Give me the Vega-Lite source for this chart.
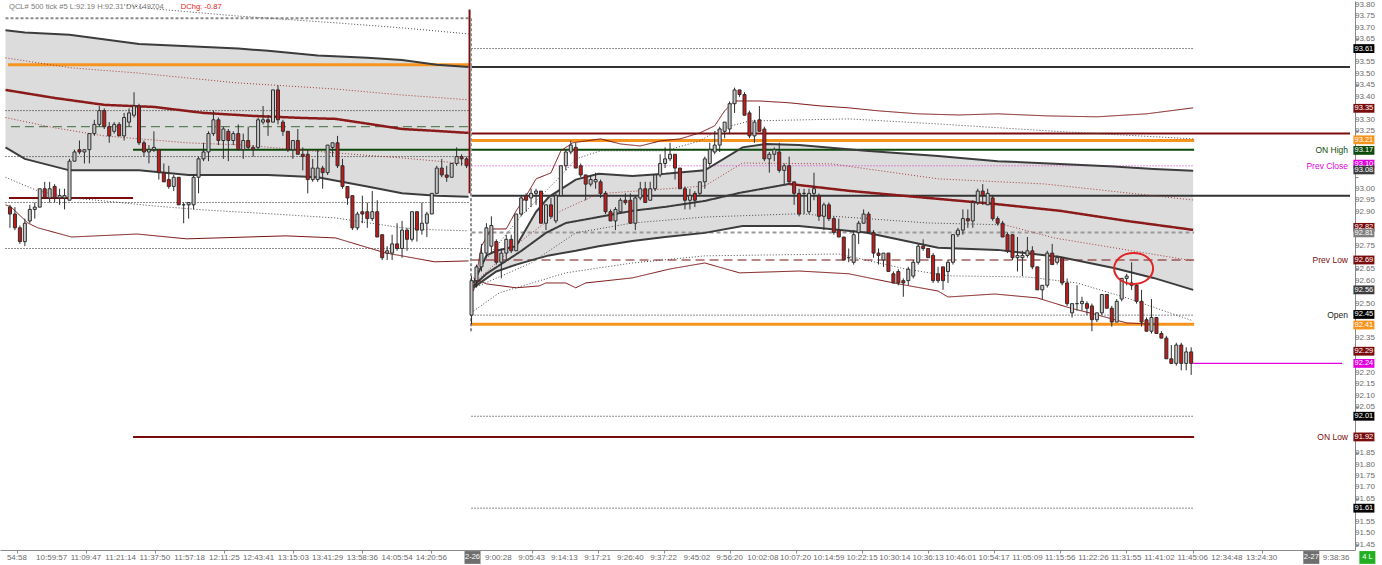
{
"$schema":"https://vega.github.io/schema/vega-lite/v6.json",
"width":1355,"height":549,"padding":0,"autosize":{"type":"pad"},
"background":"#ffffff",
"config":{"view":{"stroke":null},"font":"Liberation Sans Narrow, Liberation Sans, sans-serif","text":{"font":"Liberation Sans Narrow, Liberation Sans, sans-serif"},"axis":{"grid":false,"title":null,"labels":false}},
"datasets":{
"candles":[
{"i":0,"o":92.92,"h":92.93,"l":92.83,"c":92.89},{"i":1,"o":92.89,"h":92.92,"l":92.82,"c":92.83},{"i":2,"o":92.83,"h":92.84,"l":92.76,"c":92.77},{"i":3,"o":92.77,"h":92.87,"l":92.75,"c":92.85},{"i":4,"o":92.86,"h":92.93,"l":92.85,"c":92.91},{"i":5,"o":92.91,"h":92.94,"l":92.87,"c":92.92},{"i":6,"o":92.92,"h":93.0,"l":92.92,"c":93.0},{"i":7,"o":93.0,"h":93.03,"l":92.96,"c":92.96},{"i":8,"o":92.96,"h":93.03,"l":92.94,"c":93.0},{"i":9,"o":93.01,"h":93.02,"l":92.94,"c":92.96},
{"i":10,"o":92.96,"h":93.0,"l":92.93,"c":92.97},{"i":11,"o":92.96,"h":93.0,"l":92.91,"c":92.97},{"i":12,"o":92.95,"h":93.13,"l":92.95,"c":93.12},{"i":13,"o":93.12,"h":93.17,"l":93.12,"c":93.16},{"i":14,"o":93.17,"h":93.21,"l":93.15,"c":93.16},{"i":15,"o":93.16,"h":93.17,"l":93.11,"c":93.17},{"i":16,"o":93.17,"h":93.24,"l":93.11,"c":93.24},{"i":17,"o":93.24,"h":93.3,"l":93.23,"c":93.28},{"i":18,"o":93.28,"h":93.36,"l":93.27,"c":93.34},{"i":19,"o":93.34,"h":93.35,"l":93.26,"c":93.27},
{"i":20,"o":93.27,"h":93.29,"l":93.2,"c":93.23},{"i":21,"o":93.25,"h":93.29,"l":93.24,"c":93.28},{"i":22,"o":93.28,"h":93.29,"l":93.23,"c":93.23},{"i":23,"o":93.23,"h":93.33,"l":93.21,"c":93.31},{"i":24,"o":93.29,"h":93.35,"l":93.27,"c":93.33},{"i":25,"o":93.32,"h":93.42,"l":93.31,"c":93.36},{"i":26,"o":93.36,"h":93.37,"l":93.19,"c":93.2},{"i":27,"o":93.2,"h":93.21,"l":93.14,"c":93.16},{"i":28,"o":93.16,"h":93.19,"l":93.11,"c":93.17},{"i":29,"o":93.17,"h":93.25,"l":93.16,"c":93.18},
{"i":30,"o":93.17,"h":93.17,"l":93.04,"c":93.07},{"i":31,"o":93.07,"h":93.11,"l":93.03,"c":93.03},{"i":32,"o":93.04,"h":93.1,"l":93.0,"c":93.01},{"i":33,"o":93.01,"h":93.06,"l":92.99,"c":93.05},{"i":34,"o":93.05,"h":93.05,"l":92.93,"c":92.93},{"i":35,"o":92.93,"h":92.94,"l":92.85,"c":92.93},{"i":36,"o":92.93,"h":92.94,"l":92.87,"c":92.94},{"i":37,"o":92.93,"h":93.06,"l":92.91,"c":93.05},{"i":38,"o":93.05,"h":93.14,"l":92.98,"c":93.13},{"i":39,"o":93.13,"h":93.2,"l":93.12,"c":93.16},
{"i":40,"o":93.16,"h":93.25,"l":93.12,"c":93.24},{"i":41,"o":93.24,"h":93.34,"l":93.23,"c":93.3},{"i":42,"o":93.3,"h":93.31,"l":93.19,"c":93.21},{"i":43,"o":93.21,"h":93.27,"l":93.13,"c":93.26},{"i":44,"o":93.25,"h":93.26,"l":93.12,"c":93.21},{"i":45,"o":93.21,"h":93.25,"l":93.19,"c":93.24},{"i":46,"o":93.24,"h":93.28,"l":93.17,"c":93.17},{"i":47,"o":93.17,"h":93.24,"l":93.13,"c":93.21},{"i":48,"o":93.21,"h":93.27,"l":93.17,"c":93.18},{"i":49,"o":93.18,"h":93.19,"l":93.14,"c":93.17},
{"i":50,"o":93.18,"h":93.31,"l":93.17,"c":93.3},{"i":51,"o":93.29,"h":93.36,"l":93.28,"c":93.3},{"i":52,"o":93.3,"h":93.32,"l":93.23,"c":93.29},{"i":53,"o":93.29,"h":93.43,"l":93.29,"c":93.43},{"i":54,"o":93.43,"h":93.45,"l":93.28,"c":93.3},{"i":55,"o":93.29,"h":93.3,"l":93.23,"c":93.25},{"i":56,"o":93.25,"h":93.25,"l":93.16,"c":93.17},{"i":57,"o":93.17,"h":93.21,"l":93.13,"c":93.21},{"i":58,"o":93.21,"h":93.26,"l":93.15,"c":93.15},{"i":59,"o":93.15,"h":93.18,"l":93.08,"c":93.14},
{"i":60,"o":93.15,"h":93.17,"l":92.98,"c":93.04},{"i":61,"o":93.04,"h":93.13,"l":93.03,"c":93.09},{"i":62,"o":93.04,"h":93.17,"l":93.03,"c":93.09},{"i":63,"o":93.09,"h":93.1,"l":93.0,"c":93.07},{"i":64,"o":93.07,"h":93.19,"l":93.06,"c":93.19},{"i":65,"o":93.18,"h":93.2,"l":93.14,"c":93.2},{"i":66,"o":93.2,"h":93.23,"l":93.09,"c":93.1},{"i":67,"o":93.1,"h":93.13,"l":93.0,"c":93.01},{"i":68,"o":93.01,"h":93.01,"l":92.93,"c":92.96},{"i":69,"o":92.97,"h":92.97,"l":92.82,"c":92.83},
{"i":70,"o":92.83,"h":92.9,"l":92.82,"c":92.89},{"i":71,"o":92.9,"h":92.97,"l":92.85,"c":92.89},{"i":72,"o":92.9,"h":92.94,"l":92.83,"c":92.87},{"i":73,"o":92.87,"h":92.99,"l":92.86,"c":92.9},{"i":74,"o":92.9,"h":92.95,"l":92.79,"c":92.79},{"i":75,"o":92.8,"h":92.8,"l":92.69,"c":92.7},{"i":76,"o":92.72,"h":92.75,"l":92.69,"c":92.73},{"i":77,"o":92.72,"h":92.8,"l":92.69,"c":92.76},{"i":78,"o":92.76,"h":92.85,"l":92.73,"c":92.74},{"i":79,"o":92.74,"h":92.86,"l":92.7,"c":92.82},
{"i":80,"o":92.82,"h":92.83,"l":92.73,"c":92.78},{"i":81,"o":92.78,"h":92.9,"l":92.77,"c":92.9},{"i":82,"o":92.9,"h":92.9,"l":92.77,"c":92.82},{"i":83,"o":92.82,"h":92.94,"l":92.8,"c":92.85},{"i":84,"o":92.85,"h":92.9,"l":92.79,"c":92.89},{"i":85,"o":92.89,"h":92.98,"l":92.89,"c":92.98},{"i":86,"o":92.98,"h":93.1,"l":92.98,"c":93.09},{"i":87,"o":93.09,"h":93.13,"l":93.05,"c":93.06},{"i":88,"o":93.06,"h":93.1,"l":93.03,"c":93.05},{"i":89,"o":93.05,"h":93.11,"l":93.05,"c":93.11},
{"i":90,"o":93.11,"h":93.18,"l":93.1,"c":93.14},{"i":91,"o":93.14,"h":93.15,"l":93.1,"c":93.13},{"i":92,"o":93.13,"h":93.14,"l":93.09,"c":93.1},
{"i":93,"o":92.45,"h":92.62,"l":92.41,"c":92.6},{"i":94,"o":92.6,"h":92.67,"l":92.57,"c":92.66},{"i":95,"o":92.66,"h":92.76,"l":92.64,"c":92.72},{"i":96,"o":92.72,"h":92.85,"l":92.7,"c":92.83},{"i":97,"o":92.75,"h":92.88,"l":92.72,"c":92.84},{"i":98,"o":92.77,"h":92.78,"l":92.67,"c":92.68},{"i":99,"o":92.68,"h":92.74,"l":92.61,"c":92.72},
{"i":100,"o":92.72,"h":92.8,"l":92.69,"c":92.78},{"i":101,"o":92.78,"h":92.8,"l":92.72,"c":92.73},{"i":102,"o":92.73,"h":92.89,"l":92.73,"c":92.89},{"i":103,"o":92.89,"h":92.97,"l":92.88,"c":92.96},{"i":104,"o":92.97,"h":92.98,"l":92.9,"c":92.95},{"i":105,"o":92.96,"h":93.0,"l":92.92,"c":92.98},{"i":106,"o":92.98,"h":93.0,"l":92.93,"c":92.99},{"i":107,"o":92.99,"h":92.99,"l":92.85,"c":92.85},{"i":108,"o":92.85,"h":92.93,"l":92.82,"c":92.93},{"i":109,"o":92.93,"h":92.96,"l":92.87,"c":92.88},
{"i":110,"o":92.86,"h":92.98,"l":92.85,"c":92.97},{"i":111,"o":92.97,"h":93.1,"l":92.97,"c":93.1},{"i":112,"o":93.1,"h":93.17,"l":93.08,"c":93.16},{"i":113,"o":93.16,"h":93.21,"l":93.15,"c":93.19},{"i":114,"o":93.18,"h":93.2,"l":93.09,"c":93.09},{"i":115,"o":93.1,"h":93.11,"l":93.05,"c":93.06},{"i":116,"o":93.06,"h":93.06,"l":92.95,"c":93.02},{"i":117,"o":93.02,"h":93.06,"l":93.01,"c":93.04},{"i":118,"o":93.03,"h":93.07,"l":93.0,"c":93.04},{"i":119,"o":93.03,"h":93.04,"l":92.96,"c":92.98},
{"i":120,"o":92.98,"h":92.99,"l":92.89,"c":92.9},{"i":121,"o":92.9,"h":92.91,"l":92.86,"c":92.86},{"i":122,"o":92.86,"h":92.92,"l":92.82,"c":92.91},{"i":123,"o":92.9,"h":92.96,"l":92.9,"c":92.95},{"i":124,"o":92.95,"h":92.98,"l":92.93,"c":92.94},{"i":125,"o":92.95,"h":92.98,"l":92.85,"c":92.85},{"i":126,"o":92.85,"h":92.97,"l":92.82,"c":92.96},{"i":127,"o":92.96,"h":93.03,"l":92.95,"c":93.0},{"i":128,"o":93.0,"h":93.03,"l":92.94,"c":92.94},{"i":129,"o":92.95,"h":93.03,"l":92.95,"c":93.0},
{"i":130,"o":93.0,"h":93.06,"l":92.99,"c":93.06},{"i":131,"o":93.06,"h":93.15,"l":93.05,"c":93.11},{"i":132,"o":93.11,"h":93.18,"l":93.09,"c":93.13},{"i":133,"o":93.13,"h":93.2,"l":93.12,"c":93.15},{"i":134,"o":93.15,"h":93.15,"l":93.04,"c":93.09},{"i":135,"o":93.09,"h":93.09,"l":93.0,"c":93.0},{"i":136,"o":93.0,"h":93.01,"l":92.91,"c":92.95},{"i":137,"o":92.95,"h":93.0,"l":92.91,"c":92.97},{"i":138,"o":92.98,"h":92.99,"l":92.92,"c":92.95},{"i":139,"o":92.98,"h":93.03,"l":92.97,"c":93.03},
{"i":140,"o":93.03,"h":93.14,"l":93.0,"c":93.13},{"i":141,"o":93.11,"h":93.2,"l":93.1,"c":93.17},{"i":142,"o":93.16,"h":93.25,"l":93.15,"c":93.19},{"i":143,"o":93.19,"h":93.27,"l":93.16,"c":93.26},{"i":144,"o":93.25,"h":93.29,"l":93.22,"c":93.29},{"i":145,"o":93.26,"h":93.38,"l":93.24,"c":93.37},{"i":146,"o":93.37,"h":93.44,"l":93.33,"c":93.43},{"i":147,"o":93.43,"h":93.43,"l":93.4,"c":93.41},{"i":148,"o":93.41,"h":93.42,"l":93.32,"c":93.32},{"i":149,"o":93.33,"h":93.34,"l":93.22,"c":93.23},
{"i":150,"o":93.23,"h":93.3,"l":93.2,"c":93.29},{"i":151,"o":93.3,"h":93.36,"l":93.25,"c":93.25},{"i":152,"o":93.26,"h":93.27,"l":93.12,"c":93.13},{"i":153,"o":93.13,"h":93.16,"l":93.07,"c":93.15},{"i":154,"o":93.15,"h":93.18,"l":93.12,"c":93.17},{"i":155,"o":93.16,"h":93.2,"l":93.07,"c":93.08},{"i":156,"o":93.08,"h":93.11,"l":93.02,"c":93.1},{"i":157,"o":93.1,"h":93.14,"l":93.02,"c":93.03},{"i":158,"o":93.03,"h":93.03,"l":92.93,"c":92.98},{"i":159,"o":92.98,"h":93.0,"l":92.88,"c":92.89},
{"i":160,"o":92.98,"h":93.0,"l":92.89,"c":92.98},{"i":161,"o":92.9,"h":93.0,"l":92.89,"c":92.98},{"i":162,"o":92.98,"h":93.07,"l":92.95,"c":93.0},{"i":163,"o":92.97,"h":92.98,"l":92.86,"c":92.88},{"i":164,"o":92.88,"h":92.94,"l":92.82,"c":92.93},{"i":165,"o":92.93,"h":92.94,"l":92.86,"c":92.87},{"i":166,"o":92.87,"h":92.88,"l":92.8,"c":92.81},{"i":167,"o":92.82,"h":92.87,"l":92.79,"c":92.79},{"i":168,"o":92.79,"h":92.79,"l":92.69,"c":92.69},{"i":169,"o":92.7,"h":92.74,"l":92.68,"c":92.7},
{"i":170,"o":92.68,"h":92.82,"l":92.67,"c":92.8},{"i":171,"o":92.81,"h":92.86,"l":92.76,"c":92.85},{"i":172,"o":92.85,"h":92.91,"l":92.85,"c":92.89},{"i":173,"o":92.89,"h":92.9,"l":92.81,"c":92.81},{"i":174,"o":92.81,"h":92.82,"l":92.7,"c":92.72},{"i":175,"o":92.72,"h":92.74,"l":92.67,"c":92.71},{"i":176,"o":92.69,"h":92.72,"l":92.66,"c":92.72},{"i":177,"o":92.72,"h":92.72,"l":92.64,"c":92.64},{"i":178,"o":92.63,"h":92.64,"l":92.59,"c":92.59},{"i":179,"o":92.64,"h":92.65,"l":92.58,"c":92.59},
{"i":180,"o":92.6,"h":92.61,"l":92.53,"c":92.59},{"i":181,"o":92.6,"h":92.66,"l":92.58,"c":92.65},{"i":182,"o":92.62,"h":92.69,"l":92.61,"c":92.68},{"i":183,"o":92.68,"h":92.76,"l":92.67,"c":92.75},{"i":184,"o":92.75,"h":92.78,"l":92.73,"c":92.74},{"i":185,"o":92.74,"h":92.74,"l":92.7,"c":92.7},{"i":186,"o":92.71,"h":92.72,"l":92.59,"c":92.6},{"i":187,"o":92.63,"h":92.66,"l":92.59,"c":92.6},{"i":188,"o":92.66,"h":92.66,"l":92.56,"c":92.6},{"i":189,"o":92.64,"h":92.69,"l":92.59,"c":92.68},
{"i":190,"o":92.68,"h":92.8,"l":92.67,"c":92.8},{"i":191,"o":92.8,"h":92.83,"l":92.79,"c":92.82},{"i":192,"o":92.82,"h":92.91,"l":92.8,"c":92.87},{"i":193,"o":92.87,"h":92.91,"l":92.83,"c":92.86},{"i":194,"o":92.86,"h":92.95,"l":92.83,"c":92.94},{"i":195,"o":92.94,"h":93.0,"l":92.93,"c":92.99},{"i":196,"o":92.99,"h":93.02,"l":92.93,"c":92.97},{"i":197,"o":92.93,"h":93.0,"l":92.93,"c":92.98},{"i":198,"o":92.96,"h":92.97,"l":92.86,"c":92.87},{"i":199,"o":92.87,"h":92.88,"l":92.84,"c":92.85},
{"i":200,"o":92.85,"h":92.86,"l":92.79,"c":92.79},{"i":201,"o":92.8,"h":92.81,"l":92.72,"c":92.73},{"i":202,"o":92.8,"h":92.8,"l":92.69,"c":92.7},{"i":203,"o":92.7,"h":92.79,"l":92.64,"c":92.71},{"i":204,"o":92.7,"h":92.73,"l":92.62,"c":92.71},{"i":205,"o":92.71,"h":92.79,"l":92.7,"c":92.73},{"i":206,"o":92.73,"h":92.75,"l":92.65,"c":92.66},{"i":207,"o":92.66,"h":92.66,"l":92.56,"c":92.56},{"i":208,"o":92.56,"h":92.58,"l":92.52,"c":92.58},{"i":209,"o":92.58,"h":92.73,"l":92.57,"c":92.72},
{"i":210,"o":92.72,"h":92.76,"l":92.67,"c":92.67},{"i":211,"o":92.68,"h":92.71,"l":92.67,"c":92.7},{"i":212,"o":92.7,"h":92.7,"l":92.58,"c":92.59},{"i":213,"o":92.59,"h":92.61,"l":92.49,"c":92.5},{"i":214,"o":92.46,"h":92.5,"l":92.44,"c":92.5},{"i":215,"o":92.5,"h":92.58,"l":92.47,"c":92.5},{"i":216,"o":92.5,"h":92.53,"l":92.47,"c":92.51},{"i":217,"o":92.5,"h":92.51,"l":92.45,"c":92.48},{"i":218,"o":92.49,"h":92.5,"l":92.38,"c":92.43},{"i":219,"o":92.43,"h":92.46,"l":92.42,"c":92.46},
{"i":220,"o":92.46,"h":92.54,"l":92.45,"c":92.54},{"i":221,"o":92.54,"h":92.54,"l":92.48,"c":92.48},{"i":222,"o":92.48,"h":92.49,"l":92.4,"c":92.42},{"i":223,"o":92.42,"h":92.52,"l":92.42,"c":92.51},{"i":224,"o":92.52,"h":92.61,"l":92.51,"c":92.61},{"i":225,"o":92.61,"h":92.63,"l":92.58,"c":92.62},{"i":226,"o":92.59,"h":92.68,"l":92.56,"c":92.58},{"i":227,"o":92.58,"h":92.59,"l":92.5,"c":92.51},{"i":228,"o":92.51,"h":92.56,"l":92.4,"c":92.42},{"i":229,"o":92.43,"h":92.44,"l":92.38,"c":92.38},
{"i":230,"o":92.38,"h":92.52,"l":92.37,"c":92.44},{"i":231,"o":92.44,"h":92.44,"l":92.37,"c":92.37},{"i":232,"o":92.37,"h":92.38,"l":92.35,"c":92.35},{"i":233,"o":92.35,"h":92.36,"l":92.26,"c":92.26},{"i":234,"o":92.26,"h":92.32,"l":92.24,"c":92.24},{"i":235,"o":92.24,"h":92.33,"l":92.23,"c":92.32},{"i":236,"o":92.32,"h":92.33,"l":92.21,"c":92.24},{"i":237,"o":92.24,"h":92.31,"l":92.21,"c":92.29},{"i":238,"o":92.29,"h":92.31,"l":92.19,"c":92.24}
],
"bands":[
{"d":1,"i":-0.9,"hi":93.69,"lo":93.18},{"d":1,"i":3,"hi":93.68,"lo":93.13},{"d":1,"i":12,"hi":93.67,"lo":93.08},{"d":1,"i":26,"hi":93.63,"lo":93.08},{"d":1,"i":36,"hi":93.62,"lo":93.06},{"d":1,"i":46,"hi":93.61,"lo":93.06},{"d":1,"i":52,"hi":93.6,"lo":93.06},{"d":1,"i":62,"hi":93.58,"lo":93.05},{"d":1,"i":72,"hi":93.57,"lo":93.01},{"d":1,"i":79,"hi":93.56,"lo":92.98},{"d":1,"i":86,"hi":93.54,"lo":92.97},{"d":1,"i":92.4,"hi":93.53,"lo":92.965},
{"d":2,"i":93.4,"hi":92.59,"lo":92.57},{"d":2,"i":96,"hi":92.71,"lo":92.61},{"d":2,"i":98,"hi":92.73,"lo":92.64},{"d":2,"i":102,"hi":92.75,"lo":92.67},{"d":2,"i":106,"hi":92.9,"lo":92.695},{"d":2,"i":108.6,"hi":92.965,"lo":92.71},{"d":2,"i":114,"hi":93.04,"lo":92.73},{"d":2,"i":118.6,"hi":93.065,"lo":92.75},{"d":2,"i":125.4,"hi":93.056,"lo":92.773},{"d":2,"i":132,"hi":93.065,"lo":92.79},{"d":2,"i":140,"hi":93.08,"lo":92.808},{"d":2,"i":147.6,"hi":93.18,"lo":92.838},{"d":2,"i":152.4,"hi":93.195,"lo":92.838},{"d":2,"i":159,"hi":93.19,"lo":92.838},{"d":2,"i":172.4,"hi":93.165,"lo":92.81},{"d":2,"i":187,"hi":93.143,"lo":92.743},{"d":2,"i":199,"hi":93.12,"lo":92.734},{"d":2,"i":211.6,"hi":93.108,"lo":92.703},{"d":2,"i":222.4,"hi":93.097,"lo":92.655},{"d":2,"i":230.4,"hi":93.086,"lo":92.612},{"d":2,"i":238.4,"hi":93.078,"lo":92.56}
],
"curves":[
{"s":"d1vw","k":"vwap","i":-0.9,"v":93.43},{"s":"d1vw","k":"vwap","i":9,"v":93.395},{"s":"d1vw","k":"vwap","i":19,"v":93.365},{"s":"d1vw","k":"vwap","i":29,"v":93.356},{"s":"d1vw","k":"vwap","i":39,"v":93.33},{"s":"d1vw","k":"vwap","i":49,"v":93.317},{"s":"d1vw","k":"vwap","i":59,"v":93.308},{"s":"d1vw","k":"vwap","i":65.6,"v":93.304},{"s":"d1vw","k":"vwap","i":72.4,"v":93.282},{"s":"d1vw","k":"vwap","i":79,"v":93.26},{"s":"d1vw","k":"vwap","i":85.6,"v":93.252},{"s":"d1vw","k":"vwap","i":92.4,"v":93.243},
{"s":"d1s1","k":"sigma","i":-0.9,"v":93.57},{"s":"d1s1","k":"sigma","i":5.6,"v":93.548},{"s":"d1s1","k":"sigma","i":12.4,"v":93.526},{"s":"d1s1","k":"sigma","i":25.6,"v":93.504},{"s":"d1s1","k":"sigma","i":45.6,"v":93.461},{"s":"d1s1","k":"sigma","i":65.6,"v":93.434},{"s":"d1s1","k":"sigma","i":79,"v":93.408},{"s":"d1s1","k":"sigma","i":92.4,"v":93.387},
{"s":"d1s2","k":"sigma","i":-0.9,"v":93.31},{"s":"d1s2","k":"sigma","i":9,"v":93.265},{"s":"d1s2","k":"sigma","i":19,"v":93.23},{"s":"d1s2","k":"sigma","i":35.6,"v":93.2},{"s":"d1s2","k":"sigma","i":47,"v":93.19},{"s":"d1s2","k":"sigma","i":65.6,"v":93.156},{"s":"d1s2","k":"sigma","i":79,"v":93.134},{"s":"d1s2","k":"sigma","i":92.4,"v":93.108},
{"s":"d1o1","k":"outer","i":23,"v":93.8},{"s":"d1o1","k":"outer","i":29,"v":93.783},{"s":"d1o1","k":"outer","i":45.6,"v":93.752},{"s":"d1o1","k":"outer","i":65.6,"v":93.722},{"s":"d1o1","k":"outer","i":79,"v":93.7},{"s":"d1o1","k":"outer","i":92.4,"v":93.674},
{"s":"d1o2","k":"outer","i":-0.9,"v":93.05},{"s":"d1o2","k":"outer","i":5.6,"v":92.991},{"s":"d1o2","k":"outer","i":12.4,"v":92.96},{"s":"d1o2","k":"outer","i":19,"v":92.947},{"s":"d1o2","k":"outer","i":29,"v":92.925},{"s":"d1o2","k":"outer","i":39,"v":92.908},{"s":"d1o2","k":"outer","i":52.4,"v":92.891},{"s":"d1o2","k":"outer","i":65.6,"v":92.873},{"s":"d1o2","k":"outer","i":79,"v":92.83},{"s":"d1o2","k":"outer","i":85.6,"v":92.821},{"s":"d1o2","k":"outer","i":92.4,"v":92.817},
{"s":"d1e2","k":"env","i":-0.9,"v":92.93},{"s":"d1e2","k":"env","i":0.2,"v":92.921},{"s":"d1e2","k":"env","i":3.6,"v":92.851},{"s":"d1e2","k":"env","i":5.6,"v":92.83},{"s":"d1e2","k":"env","i":12.4,"v":92.79},{"s":"d1e2","k":"env","i":25.6,"v":92.803},{"s":"d1e2","k":"env","i":35.6,"v":92.782},{"s":"d1e2","k":"env","i":55.6,"v":92.795},{"s":"d1e2","k":"env","i":65.6,"v":92.786},{"s":"d1e2","k":"env","i":75.6,"v":92.721},{"s":"d1e2","k":"env","i":85.6,"v":92.682},{"s":"d1e2","k":"env","i":92.4,"v":92.686},
{"s":"d2vwa","k":"band","i":93.4,"v":92.577},{"s":"d2vwa","k":"band","i":96,"v":92.63},{"s":"d2vwa","k":"band","i":103,"v":92.729},{"s":"d2vwa","k":"band","i":108,"v":92.808},{"s":"d2vwa","k":"band","i":112,"v":92.851},{"s":"d2vwa","k":"band","i":118.6,"v":92.877},{"s":"d2vwa","k":"band","i":125.4,"v":92.904},{"s":"d2vwa","k":"band","i":132,"v":92.921},{"s":"d2vwa","k":"band","i":140,"v":92.947},{"s":"d2vwa","k":"band","i":147,"v":92.982},{"s":"d2vwa","k":"band","i":157,"v":93.021},
{"s":"d2vwb","k":"vwap","i":157,"v":93.021},{"s":"d2vwb","k":"vwap","i":169,"v":92.991},{"s":"d2vwb","k":"vwap","i":187,"v":92.956},{"s":"d2vwb","k":"vwap","i":198.4,"v":92.934},{"s":"d2vwb","k":"vwap","i":211.6,"v":92.904},{"s":"d2vwb","k":"vwap","i":225,"v":92.86},{"s":"d2vwb","k":"vwap","i":238.4,"v":92.821},
{"s":"d2s1","k":"sigma","i":94,"v":92.6},{"s":"d2s1","k":"sigma","i":103,"v":92.773},{"s":"d2s1","k":"sigma","i":111,"v":92.904},{"s":"d2s1","k":"sigma","i":118.6,"v":92.978},{"s":"d2s1","k":"sigma","i":140,"v":93.012},{"s":"d2s1","k":"sigma","i":147.6,"v":93.112},{"s":"d2s1","k":"sigma","i":165.6,"v":93.108},{"s":"d2s1","k":"sigma","i":187,"v":93.043},{"s":"d2s1","k":"sigma","i":208.4,"v":93.021},{"s":"d2s1","k":"sigma","i":238.4,"v":92.951},
{"s":"d2s2","k":"outer","i":94,"v":92.573},{"s":"d2s2","k":"outer","i":105,"v":92.677},{"s":"d2s2","k":"outer","i":114,"v":92.808},{"s":"d2s2","k":"outer","i":125.4,"v":92.851},{"s":"d2s2","k":"outer","i":140,"v":92.877},{"s":"d2s2","k":"outer","i":159,"v":92.891},{"s":"d2s2","k":"outer","i":185,"v":92.851},{"s":"d2s2","k":"outer","i":200.4,"v":92.843},
{"s":"d2s3","k":"sigma","i":200.4,"v":92.843},{"s":"d2s3","k":"sigma","i":210.4,"v":92.786},{"s":"d2s3","k":"sigma","i":238.4,"v":92.686},
{"s":"d2o1","k":"outer","i":94,"v":92.642},{"s":"d2o1","k":"outer","i":103,"v":92.882},{"s":"d2o1","k":"outer","i":111,"v":93.056},{"s":"d2o1","k":"outer","i":114,"v":93.13},{"s":"d2o1","k":"outer","i":119,"v":93.165},{"s":"d2o1","k":"outer","i":132,"v":93.165},{"s":"d2o1","k":"outer","i":139,"v":93.208},{"s":"d2o1","k":"outer","i":143,"v":93.26},{"s":"d2o1","k":"outer","i":149,"v":93.295},{"s":"d2o1","k":"outer","i":169,"v":93.304},{"s":"d2o1","k":"outer","i":187,"v":93.282},{"s":"d2o1","k":"outer","i":209,"v":93.252},{"s":"d2o1","k":"outer","i":238.4,"v":93.217},
{"s":"d2o2","k":"outer","i":93.4,"v":92.468},{"s":"d2o2","k":"outer","i":98.6,"v":92.547},{"s":"d2o2","k":"outer","i":112,"v":92.634},{"s":"d2o2","k":"outer","i":125.4,"v":92.677},{"s":"d2o2","k":"outer","i":140,"v":92.708},{"s":"d2o2","k":"outer","i":167,"v":92.716},{"s":"d2o2","k":"outer","i":180.4,"v":92.651},{"s":"d2o2","k":"outer","i":189,"v":92.621},{"s":"d2o2","k":"outer","i":205,"v":92.616},{"s":"d2o2","k":"outer","i":215,"v":92.59},{"s":"d2o2","k":"outer","i":225,"v":92.525},{"s":"d2o2","k":"outer","i":238.4,"v":92.425},
{"s":"d2e1","k":"env","i":93.4,"v":92.555},{"s":"d2e1","k":"env","i":95,"v":92.751},{"s":"d2e1","k":"env","i":97,"v":92.825},{"s":"d2e1","k":"env","i":100,"v":92.825},{"s":"d2e1","k":"env","i":102,"v":92.904},{"s":"d2e1","k":"env","i":104,"v":92.969},{"s":"d2e1","k":"env","i":106,"v":93.043},{"s":"d2e1","k":"env","i":109,"v":93.069},{"s":"d2e1","k":"env","i":111,"v":93.165},{"s":"d2e1","k":"env","i":113.4,"v":93.2},{"s":"d2e1","k":"env","i":119,"v":93.217},{"s":"d2e1","k":"env","i":123,"v":93.195},{"s":"d2e1","k":"env","i":127,"v":93.186},{"s":"d2e1","k":"env","i":131,"v":93.208},{"s":"d2e1","k":"env","i":135,"v":93.217},{"s":"d2e1","k":"env","i":139,"v":93.243},{"s":"d2e1","k":"env","i":142,"v":93.274},{"s":"d2e1","k":"env","i":144,"v":93.339},{"s":"d2e1","k":"env","i":146,"v":93.382},{"s":"d2e1","k":"env","i":151,"v":93.382},{"s":"d2e1","k":"env","i":157,"v":93.374},{"s":"d2e1","k":"env","i":163,"v":93.361},{"s":"d2e1","k":"env","i":169,"v":93.352},{"s":"d2e1","k":"env","i":175,"v":93.339},{"s":"d2e1","k":"env","i":183,"v":93.326},{"s":"d2e1","k":"env","i":191,"v":93.321},{"s":"d2e1","k":"env","i":199,"v":93.326},{"s":"d2e1","k":"env","i":209,"v":93.317},{"s":"d2e1","k":"env","i":219,"v":93.313},{"s":"d2e1","k":"env","i":229,"v":93.326},{"s":"d2e1","k":"env","i":238.4,"v":93.352},
{"s":"d2e2","k":"env","i":93.4,"v":92.612},{"s":"d2e2","k":"env","i":96,"v":92.586},{"s":"d2e2","k":"env","i":102,"v":92.569},{"s":"d2e2","k":"env","i":106.6,"v":92.577},{"s":"d2e2","k":"env","i":108,"v":92.59},{"s":"d2e2","k":"env","i":112,"v":92.59},{"s":"d2e2","k":"env","i":114,"v":92.569},{"s":"d2e2","k":"env","i":116,"v":92.59},{"s":"d2e2","k":"env","i":125.4,"v":92.612},{"s":"d2e2","k":"env","i":133,"v":92.651},{"s":"d2e2","k":"env","i":140,"v":92.677},{"s":"d2e2","k":"env","i":147,"v":92.634},{"s":"d2e2","k":"env","i":159,"v":92.642},{"s":"d2e2","k":"env","i":169,"v":92.63},{"s":"d2e2","k":"env","i":179,"v":92.586},{"s":"d2e2","k":"env","i":187,"v":92.555},{"s":"d2e2","k":"env","i":189,"v":92.529},{"s":"d2e2","k":"env","i":198.4,"v":92.542},{"s":"d2e2","k":"env","i":207,"v":92.525},{"s":"d2e2","k":"env","i":213.6,"v":92.481},{"s":"d2e2","k":"env","i":218.4,"v":92.455},{"s":"d2e2","k":"env","i":225,"v":92.416},{"s":"d2e2","k":"env","i":231,"v":92.41}
],
"levels":[
{"k":"topdash","v":93.742,"a":-0.9,"b":92.6},{"k":"orange","v":93.54,"a":-0.4,"b":92.6},{"k":"dotted","v":93.34,"a":-0.9,"b":92.6},{"k":"greendash","v":93.27,"a":0.2,"b":92.6},{"k":"dotted","v":93.14,"a":-0.9,"b":92.6},{"k":"dotted","v":92.94,"a":-0.9,"b":92.6},{"k":"dotted","v":92.74,"a":-0.9,"b":92.6},{"k":"maroon","v":92.96,"a":-0.2,"b":24.8},
{"k":"green","v":93.17,"a":24.8,"b":238.6},{"k":"maroon","v":91.92,"a":24.8,"b":238.6},
{"k":"dotted","v":93.61,"a":93,"b":238.6},{"k":"dark","v":93.53,"a":93,"b":270},{"k":"maroon","v":93.24,"a":93,"b":270},{"k":"orange","v":93.21,"a":93,"b":238.6},{"k":"magdot","v":93.1,"a":93,"b":238.6},{"k":"dark","v":92.97,"a":93,"b":270},{"k":"greydash","v":92.81,"a":93,"b":238.6},{"k":"maroondash","v":92.69,"a":93,"b":238.6},{"k":"dotted","v":92.45,"a":93,"b":238.6},{"k":"orange","v":92.41,"a":93,"b":238.6},{"k":"magenta","v":92.24,"a":238.4,"b":268.4},{"k":"dotted","v":92.01,"a":93,"b":238.6},{"k":"dotted","v":91.61,"a":93,"b":238.6}
],
"names":[
{"k":"green","v":93.17,"t":"ON High"},{"k":"magenta","v":93.1,"t":"Prev Close"},{"k":"maroon","v":92.69,"t":"Prev Low"},{"k":"dotted","v":92.45,"t":"Open"},{"k":"maroon","v":91.92,"t":"ON Low"}
],
"tags":[
{"k":"black","v":93.61,"t":"93.61"},{"k":"maroon","v":93.35,"t":"93.35"},{"k":"orange","v":93.213,"t":"93.21"},{"k":"green","v":93.167,"t":"93.17"},{"k":"magenta","v":93.107,"t":"93.10"},{"k":"dkgrey","v":93.082,"t":"93.08"},{"k":"maroon","v":92.832,"t":"92.82"},{"k":"grey","v":92.808,"t":"92.81"},{"k":"maroon","v":92.69,"t":"92.69"},{"k":"dkgrey","v":92.56,"t":"92.56"},{"k":"black","v":92.453,"t":"92.45"},{"k":"orange","v":92.407,"t":"92.41"},{"k":"maroon","v":92.293,"t":"92.29"},{"k":"magenta","v":92.24,"t":"92.24"},{"k":"black","v":92.01,"t":"92.01"},{"k":"maroon","v":91.92,"t":"91.92"},{"k":"black","v":91.61,"t":"91.61"}
],
"dates":[
{"k":"dategrey","i":93.2,"t":"2-26"},{"k":"dategrey","i":262.2,"t":"2-27"},{"k":"live","i":273.5,"t":"4 L"}
],
"xticks":[
{"i":1.4,"t":"54:58"},{"i":8.4,"t":"10:59:57"},{"i":15.3,"t":"11:09:47"},{"i":22.3,"t":"11:21:14"},{"i":29.2,"t":"11:37:50"},{"i":36.2,"t":"11:57:18"},{"i":43.2,"t":"12:11:25"},{"i":50.1,"t":"12:43:41"},{"i":57.1,"t":"13:15:03"},{"i":64,"t":"13:41:29"},{"i":71,"t":"13:58:36"},{"i":78,"t":"14:05:54"},{"i":84.9,"t":"14:20:56"},
{"i":98.4,"t":"9:00:28"},{"i":105.1,"t":"9:05:43"},{"i":111.7,"t":"9:14:13"},{"i":118.4,"t":"9:17:21"},{"i":125,"t":"9:26:40"},{"i":131.7,"t":"9:37:22"},{"i":138.4,"t":"9:45:02"},{"i":145,"t":"9:56:20"},{"i":151.7,"t":"10:02:08"},{"i":158.3,"t":"10:07:20"},{"i":165,"t":"10:14:59"},{"i":171.7,"t":"10:22:15"},{"i":178.3,"t":"10:30:14"},{"i":185,"t":"10:36:13"},{"i":191.6,"t":"10:46:01"},{"i":198.3,"t":"10:54:17"},{"i":205,"t":"11:05:09"},{"i":211.6,"t":"11:15:56"},{"i":218.3,"t":"11:22:26"},{"i":224.9,"t":"11:31:55"},{"i":231.6,"t":"11:41:02"},{"i":238.3,"t":"11:45:06"},{"i":245.2,"t":"12:34:48"},{"i":252.2,"t":"13:24:30"},{"i":267.2,"t":"9:38:36"}
],
"yticks":[
{"v":91.45,"t":"91.45"},{"v":91.5,"t":"91.50"},{"v":91.55,"t":"91.55"},{"v":91.65,"t":"91.65"},{"v":91.7,"t":"91.70"},{"v":91.75,"t":"91.75"},{"v":91.8,"t":"91.80"},{"v":91.85,"t":"91.85"},{"v":92.05,"t":"92.05"},{"v":92.1,"t":"92.10"},{"v":92.15,"t":"92.15"},{"v":92.2,"t":"92.20"},{"v":92.35,"t":"92.35"},{"v":92.5,"t":"92.50"},{"v":92.6,"t":"92.60"},
{"v":92.65,"t":"92.65"},{"v":92.75,"t":"92.75"},{"v":92.9,"t":"92.90"},{"v":92.95,"t":"92.95"},{"v":93.0,"t":"93.00"},{"v":93.25,"t":"93.25"},{"v":93.3,"t":"93.30"},{"v":93.4,"t":"93.40"},{"v":93.45,"t":"93.45"},{"v":93.5,"t":"93.50"},{"v":93.55,"t":"93.55"},{"v":93.65,"t":"93.65"},{"v":93.7,"t":"93.70"},{"v":93.75,"t":"93.75"},{"v":93.8,"t":"93.80"}
]
},
"layer":[
{"data":{"name":"bands"},"mark":{"type":"area","color":"#dcdcdc","opacity":1},
 "encoding":{"x":{"field":"i","type":"quantitative","scale":{"domain":[-1,270],"nice":false,"zero":false},
   "axis":{"orient":"bottom","title":null,"grid":false,"labels":false,"zindex":0,"values":[1.4,8.4,15.3,22.3,29.2,36.2,43.2,50.1,57.1,64,71,78,84.9,98.4,105.1,111.7,118.4,125,131.7,138.4,145,151.7,158.3,165,171.7,178.3,185,191.6,198.3,205,211.6,218.3,224.9,231.6,238.3,245.2,252.2,267.2],
   "tickSize":3,"tickColor":"#8a8a8a","domainColor":"#8a8a8a","domainWidth":1}},
  "y":{"field":"hi","type":"quantitative","scale":{"domain":[91.428,93.817],"nice":false,"zero":false},
   "axis":{"orient":"right","title":null,"grid":false,"labels":false,"zindex":0,"values":[91.45,91.5,91.55,91.6,91.65,91.7,91.75,91.8,91.85,91.9,91.95,92,92.05,92.1,92.15,92.2,92.25,92.3,92.35,92.4,92.45,92.5,92.55,92.6,92.65,92.7,92.75,92.8,92.85,92.9,92.95,93,93.05,93.1,93.15,93.2,93.25,93.3,93.35,93.4,93.45,93.5,93.55,93.6,93.65,93.7,93.75,93.8],
   "tickSize":3,"tickColor":"#8a8a8a","domainColor":"#8a8a8a","domainWidth":1}},
  "y2":{"field":"lo"},"detail":{"field":"d","type":"nominal"}}},
{"data":{"name":"levels"},"mark":{"type":"rule"},
 "encoding":{"x":{"field":"a","type":"quantitative"},"x2":{"field":"b"},"y":{"field":"v","type":"quantitative"},
  "color":{"field":"k","type":"nominal","legend":null,"scale":{"type":"ordinal","domain":["vwap","band","sigma","outer","env","orange","maroon","green","dark","dotted","magdot","greydash","maroondash","greendash","magenta","topdash","black","dkgrey","grey","dategrey","live"],"range":["#8b1a1a","#3c3c3c","#a83a3a","#4a4a4a","#7a1010","#f7941d","#7a0c0c","#0d4a0d","#333333","#1a1a1a","#d633d6","#9a9a9a","#7a1010","#3d6b3d","#e000e0","#8c8c8c","#000000","#3c3c3c","#808080","#6e6e6e","#22b022"]}},
  "strokeWidth":{"field":"k","type":"nominal","legend":null,"scale":{"type":"ordinal","domain":["vwap","band","sigma","outer","env","orange","maroon","green","dark","dotted","magdot","greydash","maroondash","greendash","magenta","topdash","black","dkgrey","grey","dategrey","live"],"range":[2.5,2,1,1,1,3,2,2,2,1,1,2,1.2,1,1.3,2,1,1,1,1,1]}},
  "strokeDash":{"field":"k","type":"nominal","legend":null,"scale":{"type":"ordinal","domain":["vwap","band","sigma","outer","env","orange","maroon","green","dark","dotted","magdot","greydash","maroondash","greendash","magenta","topdash","black","dkgrey","grey","dategrey","live"],"range":[[1,0],[1,0],[1,2],[1,2],[1,0],[1,0],[1,0],[1,0],[1,0],[1,2],[1,2],[4,3],[9,5],[9,5],[1,0],[3,2],[1,0],[1,0],[1,0],[1,0],[1,0]]}}}},
{"data":{"name":"curves"},"mark":{"type":"line"},
 "encoding":{"x":{"field":"i","type":"quantitative"},"y":{"field":"v","type":"quantitative"},"detail":{"field":"s","type":"nominal"},
  "color":{"field":"k","type":"nominal","legend":null,"scale":{"type":"ordinal","domain":["vwap","band","sigma","outer","env","orange","maroon","green","dark","dotted","magdot","greydash","maroondash","greendash","magenta","topdash","black","dkgrey","grey","dategrey","live"],"range":["#8b1a1a","#3c3c3c","#a83a3a","#4a4a4a","#7a1010","#f7941d","#7a0c0c","#0d4a0d","#333333","#1a1a1a","#d633d6","#9a9a9a","#7a1010","#3d6b3d","#e000e0","#8c8c8c","#000000","#3c3c3c","#808080","#6e6e6e","#22b022"]}},
  "strokeWidth":{"field":"k","type":"nominal","legend":null,"scale":{"type":"ordinal","domain":["vwap","band","sigma","outer","env","orange","maroon","green","dark","dotted","magdot","greydash","maroondash","greendash","magenta","topdash","black","dkgrey","grey","dategrey","live"],"range":[2.5,2,1,1,1,3,2,2,2,1,1,2,1.2,1,1.3,2,1,1,1,1,1]}},
  "strokeDash":{"field":"k","type":"nominal","legend":null,"scale":{"type":"ordinal","domain":["vwap","band","sigma","outer","env","orange","maroon","green","dark","dotted","magdot","greydash","maroondash","greendash","magenta","topdash","black","dkgrey","grey","dategrey","live"],"range":[[1,0],[1,0],[1,2],[1,2],[1,0],[1,0],[1,0],[1,0],[1,0],[1,2],[1,2],[4,3],[9,5],[9,5],[1,0],[3,2],[1,0],[1,0],[1,0],[1,0],[1,0]]}}}},
{"data":{"name":"bands"},"mark":{"type":"line","color":"#3c3c3c","strokeWidth":2},
 "encoding":{"x":{"field":"i","type":"quantitative"},"y":{"field":"hi","type":"quantitative"},"detail":{"field":"d","type":"nominal"}}},
{"data":{"name":"bands"},"mark":{"type":"line","color":"#3c3c3c","strokeWidth":2},
 "encoding":{"x":{"field":"i","type":"quantitative"},"y":{"field":"lo","type":"quantitative"},"detail":{"field":"d","type":"nominal"}}},
{"data":{"values":[{"p":92.6,"top":93.78,"bot":92.98}]},"mark":{"type":"rule","color":"#7a1010","strokeWidth":2},
 "encoding":{"x":{"field":"p","type":"quantitative"},"y":{"field":"top","type":"quantitative"},"y2":{"field":"bot"}}},
{"data":{"values":[{"p":92.9,"top":93.742,"bot":92.38}]},"mark":{"type":"rule","color":"#8c8c8c","strokeWidth":2,"strokeDash":[3,2]},
 "encoding":{"x":{"field":"p","type":"quantitative"},"y":{"field":"top","type":"quantitative"},"y2":{"field":"bot"}}},
{"data":{"name":"candles"},"mark":{"type":"rule","color":"#2e2e2e","strokeWidth":1},
 "encoding":{"x":{"field":"i","type":"quantitative"},"y":{"field":"l","type":"quantitative"},"y2":{"field":"h"}}},
{"data":{"name":"candles"},"mark":{"type":"bar","size":3,"stroke":"#2e2e2e","strokeWidth":1},
 "encoding":{"x":{"field":"i","type":"quantitative"},"y":{"field":"o","type":"quantitative"},"y2":{"field":"c"},
  "color":{"condition":{"test":"datum.c < datum.o","value":"#c81818"},"value":"#c8c8c8"}}},
{"data":{"values":[{"i":226.4,"v":92.653}]},"mark":{"type":"point","shape":"M-1,0A1,0.8,0,1,1,1,0A1,0.8,0,1,1,-1,0Z","size":1521,"filled":false,"color":"#e02424","strokeWidth":2,"opacity":1},
 "encoding":{"x":{"field":"i","type":"quantitative"},"y":{"field":"v","type":"quantitative"}}},
{"data":{"name":"names"},"mark":{"type":"text","align":"right","baseline":"middle","fontSize":8.5},
 "encoding":{"x":{"datum":269.6,"type":"quantitative"},"y":{"field":"v","type":"quantitative"},"text":{"field":"t"},"color":{"field":"k","type":"nominal","legend":null}}},
{"data":{"values":[{"t":"QCL# 500 tick #5 L:92.19 H:92.31 DV:149704"}]},"mark":{"type":"text","align":"left","baseline":"middle","fontSize":7.6,"color":"#7a7a7a"},
 "encoding":{"x":{"datum":-0.2,"type":"quantitative"},"y":{"datum":93.791,"type":"quantitative"},"text":{"field":"t"}}},
{"data":{"values":[{"t":"DChg: -0.87"}]},"mark":{"type":"text","align":"left","baseline":"middle","fontSize":7.6,"color":"#e02020"},
 "encoding":{"x":{"datum":34.4,"type":"quantitative"},"y":{"datum":93.791,"type":"quantitative"},"text":{"field":"t"}}},
{"data":{"name":"xticks"},"mark":{"type":"text","align":"center","baseline":"middle","fontSize":8,"color":"#6a6a6a"},
 "encoding":{"x":{"field":"i","type":"quantitative"},"y":{"datum":91.392,"type":"quantitative"},"text":{"field":"t"}}},
{"data":{"name":"yticks"},"mark":{"type":"text","align":"left","baseline":"middle","fontSize":8,"color":"#6a6a6a"},
 "encoding":{"x":{"datum":271,"type":"quantitative"},"y":{"field":"v","type":"quantitative"},"text":{"field":"t"}}},
{"data":{"name":"tags"},"mark":{"type":"point","shape":"M-1,-0.42H1V0.42H-1Z","size":441,"filled":true,"opacity":1,"strokeWidth":0},
 "encoding":{"x":{"datum":272.8,"type":"quantitative"},"y":{"field":"v","type":"quantitative"},"color":{"field":"k","type":"nominal","legend":null}}},
{"data":{"name":"tags"},"mark":{"type":"text","align":"center","baseline":"middle","fontSize":7.5,"color":"#ffffff"},
 "encoding":{"x":{"datum":272.8,"type":"quantitative"},"y":{"field":"v","type":"quantitative"},"text":{"field":"t"}}},
{"data":{"name":"dates"},"mark":{"type":"point","shape":"M-1,-0.8H1V0.8H-1Z","size":256,"filled":true,"opacity":1,"strokeWidth":0},
 "encoding":{"x":{"field":"i","type":"quantitative"},"y":{"datum":91.3955,"type":"quantitative"},"color":{"field":"k","type":"nominal","legend":null}}},
{"data":{"name":"dates"},"mark":{"type":"text","align":"center","baseline":"middle","fontSize":7.5,"color":"#ffffff"},
 "encoding":{"x":{"field":"i","type":"quantitative"},"y":{"datum":91.3955,"type":"quantitative"},"text":{"field":"t"}}}
]
}
